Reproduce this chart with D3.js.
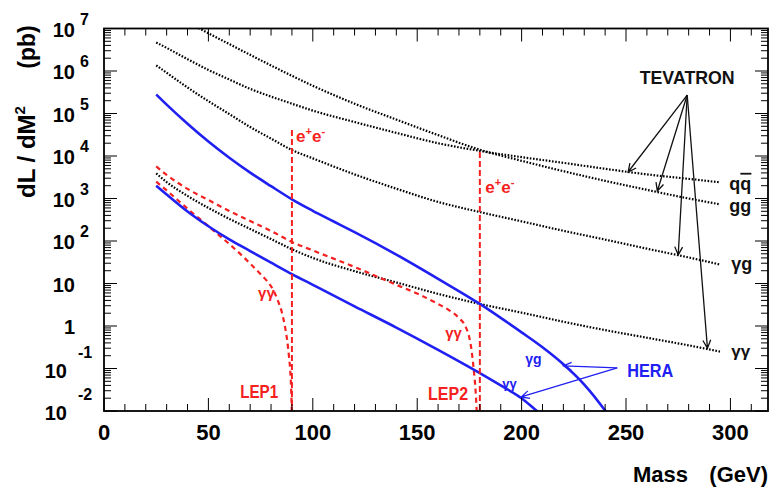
<!DOCTYPE html>
<html>
<head>
<meta charset="utf-8">
<script src="https://cdn.jsdelivr.net/npm/d3@7"></script>
<style>
  body { margin: 0; background: #fff; }
  svg { display: block; font-family: "Liberation Sans", Arial, sans-serif; font-weight: bold; }
</style>
</head>
<body>
<svg id="chart" width="771" height="491"></svg>
<script>
// luminosity curves dL/dM^2 (pb) vs mass (GeV)

// tevatron curves share one mass grid
const tevMass = [25, 30, 40, 50, 60, 70, 80, 90, 100, 120, 140, 160, 180, 200, 220, 240, 260, 280, 295];
const tevGG = [3.5e7, 2.5e7, 1.4e7, 7.7e6, 4.3e6, 2.4e6, 1.35e6, 7.7e5, 4.5e5, 1.7e5, 7.2e4, 3.1e4, 1.4e4, 7.7e3, 4.4e3, 2.6e3, 1.6e3, 1.0e3, 730];
const tevQQ = [4.7e6, 3.5e6, 1.9e6, 1.06e6, 6.3e5, 3.8e5, 2.5e5, 1.7e5, 1.17e5, 6.3e4, 3.5e4, 2.0e4, 1.32e4, 9.4e3, 6.9e3, 5.0e3, 3.7e3, 2.9e3, 2.4e3];
const tevGammaG = [1.36e6, 9.1e5, 4.1e5, 1.95e5, 9.7e4, 4.8e4, 2.57e4, 1.38e4, 8.8e3, 3.7e3, 1.7e3, 830, 480, 290, 174, 108, 66, 41, 28];
const tevGammaGamma = [3.9e3, 2.44e3, 1.15e3, 600, 332, 192, 111, 64, 40, 19.5, 10.6, 5.7, 3.3, 2.06, 1.26, 0.80, 0.53, 0.35, 0.25];

// HERA
const heraGGMass = [25, 30, 40, 50, 60, 70, 80, 90, 100, 110, 120, 140, 160, 180, 190, 200, 210, 220, 230, 240, 243];
const heraGammaG = [2.8e5, 1.62e5, 5.75e4, 2.19e4, 9.1e3, 4.07e3, 1.95e3, 955, 513, 288, 162, 48, 12.9, 3.3, 1.55, 0.71, 0.316, 0.126, 0.042, 0.0102, 0.0063];
const heraYYMass = [25, 30, 40, 50, 60, 70, 80, 90, 100, 120, 140, 160, 180, 190, 200, 208, 212];
const heraGammaGamma = [2.0e3, 1.24e3, 494, 222, 109, 58, 31, 16.7, 9.3, 2.9, 0.92, 0.275, 0.078, 0.04, 0.02, 0.0095, 0.007];

// LEP gamma-gamma
const lep1Mass = [25, 30, 40, 50, 55, 60, 65, 70, 74, 78, 81, 83.5, 85.3, 86.7, 87.7, 88.6, 89.2, 89.6, 90];
const lep1GammaGamma = [2.5e3, 1.55e3, 575, 224, 138, 85, 51, 29.5, 18.6, 11.5, 7.1, 3.7, 2.0, 0.95, 0.47, 0.19, 0.089, 0.037, 0.008];
const lep2Mass = [25, 30, 40, 50, 60, 70, 80, 90, 100, 120, 140, 150, 160, 165, 170, 173, 175, 176, 177, 178, 178.5, 179];
const lep2GammaGamma = [5.7e3, 3.6e3, 1.68e3, 923, 508, 295, 172, 95, 60, 24.5, 9.3, 5.8, 3.3, 2.4, 1.54, 1.0, 0.52, 0.275, 0.102, 0.028, 0.01, 0.004];

// e+e- beam energies: mass, top of line
const eeLines = [[90, 4.1e4], [180, 1.24e4]];

const xTickLabels = [0, 50, 100, 150, 200, 250, 300];
const yTickExps = [-2, -1, 0, 1, 2, 3, 4, 5, 6, 7];

const blue = '#2020f2';
const red = '#f52020';
const dark = '#000';

const svg = d3.select('#chart');
const x = d3.scaleLinear().domain([0, 318]).range([104, 768]);
const y = d3.scaleLog().domain([1e-2, 1e7]).range([411, 28.5]);

svg.append('defs').append('clipPath').attr('id', 'clip')
  .append('rect')
  .attr('x', x.range()[0]).attr('y', y.range()[1])
  .attr('width', x.range()[1] - x.range()[0])
  .attr('height', y.range()[0] - y.range()[1]);

const plot = svg.append('g').attr('clip-path', 'url(#clip)');

const line = d3.line()
  .x(d => x(d[0]))
  .y(d => y(d[1]))
  .curve(d3.curveMonotoneX);

const curves = [
  {m: tevMass, v: tevGG, color: dark, dash: '1.6,1.6', w: 2.2},
  {m: tevMass, v: tevQQ, color: dark, dash: '1.6,1.6', w: 2.2},
  {m: tevMass, v: tevGammaG, color: dark, dash: '1.6,1.6', w: 2.2},
  {m: tevMass, v: tevGammaGamma, color: dark, dash: '1.6,1.6', w: 2.2},
  {m: lep2Mass, v: lep2GammaGamma, color: red, dash: '5,4', w: 2.2},
  {m: lep1Mass, v: lep1GammaGamma, color: red, dash: '5,4', w: 2.2},
  {m: heraGGMass, v: heraGammaG, color: blue, dash: null, w: 2.6},
  {m: heraYYMass, v: heraGammaGamma, color: blue, dash: null, w: 2.6}
];

plot.selectAll('.curve')
  .data(curves)
  .enter()
  .append('path')
  .attr('class', 'curve')
  .attr('d', c => line(c.m.map((m, i) => [m, c.v[i]])))
  .style('fill', 'none')
  .style('stroke', c => c.color)
  .style('stroke-width', c => c.w)
  .style('stroke-dasharray', c => c.dash);

// vertical e+e- lines
plot.selectAll('.ee')
  .data(eeLines)
  .enter()
  .append('line')
  .attr('x1', d => x(d[0])).attr('x2', d => x(d[0]))
  .attr('y1', d => y(d[1])).attr('y2', y.range()[0])
  .style('stroke', red)
  .style('stroke-width', 2)
  .style('stroke-dasharray', '6,3');

// frame + ticks
const axes = svg.append('g');
const [x0, x1] = x.range();
const [yb, yt] = y.range();

axes.append('rect')
  .attr('x', x0).attr('y', yt)
  .attr('width', x1 - x0).attr('height', yb - yt)
  .style('fill', 'none').style('stroke', '#000').style('stroke-width', 1.8);

const xTicks = d3.range(0, 318, 10);
xTicks.forEach(t => {
  const len = t % 50 === 0 ? 13 : 7;
  axes.append('line').attr('x1', x(t)).attr('x2', x(t)).attr('y1', yb).attr('y2', yb - len)
    .style('stroke', '#000').style('stroke-width', 1);
  axes.append('line').attr('x1', x(t)).attr('x2', x(t)).attr('y1', yt).attr('y2', yt + len)
    .style('stroke', '#000').style('stroke-width', 1);
});

const yTicks = [];
d3.range(-2, 7).forEach(e => d3.range(1, 10).forEach(k => yTicks.push({v: k * Math.pow(10, e), major: k === 1})));
yTicks.push({v: 1e7, major: true});
yTicks.forEach(t => {
  const len = t.major ? 13 : 7;
  axes.append('line').attr('x1', x0).attr('x2', x0 + len).attr('y1', y(t.v)).attr('y2', y(t.v))
    .style('stroke', '#000').style('stroke-width', 1);
  axes.append('line').attr('x1', x1).attr('x2', x1 - len).attr('y1', y(t.v)).attr('y2', y(t.v))
    .style('stroke', '#000').style('stroke-width', 1);
});

// x tick labels
svg.selectAll('.xlab')
  .data(xTickLabels)
  .enter()
  .append('text')
  .attr('class', 'xlab')
  .attr('x', d => x(d))
  .attr('y', 440)
  .attr('text-anchor', 'middle')
  .style('font-size', '22px')
  .text(d => d);

// y tick labels, ROOT style 10^n
yTickExps.forEach(e => {
  const ty = y(Math.pow(10, e));
  if (e === 0 || e === 1) {
    svg.append('text').attr('x', 75).attr('y', ty + 8).attr('text-anchor', 'end')
      .style('font-size', '20px').text(e === 0 ? '1' : '10');
    return;
  }
  const neg = e < 0;
  const base = ty + (neg ? 9 : 8);
  svg.append('text').attr('x', neg ? 67 : 75).attr('y', base).attr('text-anchor', 'end')
    .style('font-size', '20px').text('10');
  svg.append('text').attr('x', neg ? 78 : 80).attr('y', base - (neg ? 20 : 12))
    .style('font-size', '16px').text(e);
});

// axis titles
svg.append('text').attr('x', 633).attr('y', 482).style('font-size', '22px').text('Mass');
svg.append('text').attr('x', 768).attr('y', 482).attr('text-anchor', 'end').style('font-size', '22px').text('(GeV)');

const yt1 = svg.append('text').attr('transform', 'translate(35,152) rotate(-90)')
  .attr('text-anchor', 'middle').style('font-size', '24px');
yt1.append('tspan').text('dL / dM');
yt1.append('tspan').attr('dy', -10).style('font-size', '15px').text('2');
svg.append('text').attr('transform', 'translate(35,47) rotate(-90)')
  .attr('text-anchor', 'middle').style('font-size', '23px').text('(pb)');

// annotations
const labels = [
  {t: 'TEVATRON', m: 279.3, v: 4.9e5, c: '#111', s: 19, a: 'middle', len: 95},
  {t: 'gg', m: 299.5, v: 480, c: '#111', s: 18},
  {t: 'γg', m: 300.4, v: 20.8, c: '#111', s: 18},
  {t: 'γγ', m: 300.4, v: 0.19, c: '#111', s: 17},
  {t: 'LEP1', m: 65.2, v: 0.0204, c: red, s: 19, len: 38},
  {t: 'LEP2', m: 155.2, v: 0.018, c: red, s: 19, len: 40},
  {t: 'HERA', m: 250.6, v: 0.063, c: blue, s: 19, len: 46},
  {t: 'γg', m: 201.7, v: 0.128, c: blue, s: 14},
  {t: 'γγ', m: 190.7, v: 0.035, c: blue, s: 13},
  {t: 'γγ', m: 73.8, v: 4.6, c: red, s: 15},
  {t: 'γγ', m: 163.4, v: 0.52, c: red, s: 15}
];
labels.forEach(l => {
  const el = svg.append('text')
    .attr('x', x(l.m)).attr('y', y(l.v))
    .attr('text-anchor', l.a || 'start')
    .style('font-size', l.s + 'px')
    .style('fill', l.c)
    .text(l.t);
  if (l.len) el.attr('textLength', l.len).attr('lengthAdjust', 'spacingAndGlyphs');
});

// q qbar
const qq = svg.append('text').attr('x', x(299.5)).attr('y', y(1.6e3)).style('font-size', '18px').style('fill', '#111');
qq.append('tspan').text('q');
qq.append('tspan').style('text-decoration', 'overline').text('q');

// e+e- labels
[[92, 2.1e4], [182.6, 1.35e3]].forEach(p => {
  const t = svg.append('text').attr('x', x(p[0])).attr('y', y(p[1])).style('font-size', '17px').style('fill', red);
  t.append('tspan').text('e');
  t.append('tspan').attr('dy', -7).style('font-size', '11px').text('+');
  t.append('tspan').attr('dy', 7).text('e');
  t.append('tspan').attr('dy', -7).style('font-size', '11px').text('-');
});

// arrows
function arrow(from, to, color) {
  const ax = x(from[0]), ay = y(from[1]), bx = x(to[0]), by = y(to[1]);
  const ang = Math.atan2(by - ay, bx - ax);
  const hl = 9, ha = 0.45;
  const p = d3.path();
  p.moveTo(ax, ay); p.lineTo(bx, by);
  p.moveTo(bx - hl * Math.cos(ang - ha), by - hl * Math.sin(ang - ha));
  p.lineTo(bx, by);
  p.lineTo(bx - hl * Math.cos(ang + ha), by - hl * Math.sin(ang + ha));
  svg.append('path').attr('d', p.toString())
    .style('fill', 'none').style('stroke', color).style('stroke-width', 1.3);
}
const tevOrigin = [279.3, 2.72e5];
[[251, 4.2e3], [265, 1.5e3], [275, 47], [289, 0.3]].forEach(t => arrow(tevOrigin, t, '#111'));
const heraOrigin = [245.8, 0.103];
[[220, 0.115], [199.8, 0.0214]].forEach(t => arrow(heraOrigin, t, blue));
</script>
</body>
</html>
